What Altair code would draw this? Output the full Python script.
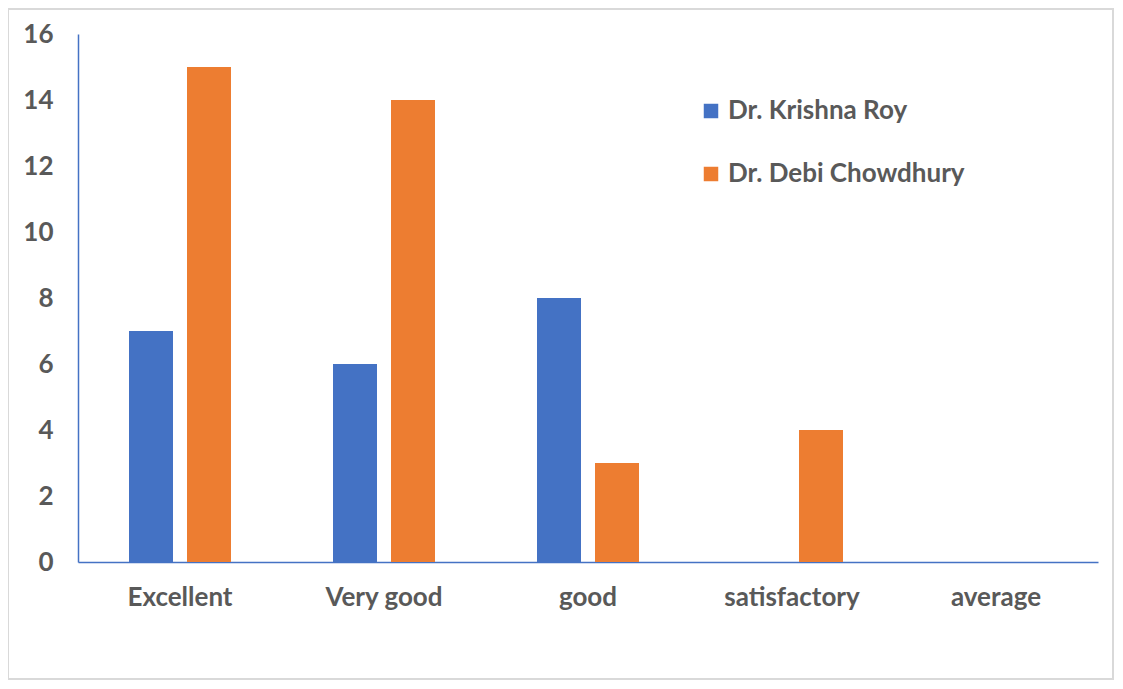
import altair as alt
import pandas as pd

categories = ["Excellent", "Very good", "good", "satisfactory", "average"]
series_names = ["Dr. Krishna Roy", "Dr. Debi Chowdhury"]
krishna = [7, 6, 8, 0, 0]
debi = [15, 14, 3, 4, 0]
colors = ["#4472C4", "#ED7D31"]

rows = []
for c, k, d in zip(categories, krishna, debi):
    rows.append({"cat": c, "series": series_names[0], "value": k})
    rows.append({"cat": c, "series": series_names[1], "value": d})
df = pd.DataFrame(rows)

FONT = "Lato"
GRAY = "#595959"
FS = 26

bars = alt.Chart(df).mark_bar().encode(
    x=alt.X("cat:N", sort=categories,
            scale=alt.Scale(paddingInner=0.5, paddingOuter=0.25),
            axis=alt.Axis(title=None, labelAngle=0, ticks=False, labelPadding=22,
                          domainColor="#4472C4", domainWidth=1.5,
                          labelFontSize=FS, labelFont=FONT, labelFontWeight="bold",
                          labelColor=GRAY)),
    xOffset=alt.XOffset("series:N", sort=series_names,
                        scale=alt.Scale(paddingInner=0.2414, paddingOuter=0)),
    y=alt.Y("value:Q", scale=alt.Scale(domain=[0, 16], nice=False),
            axis=alt.Axis(title=None, values=list(range(0, 17, 2)), ticks=False,
                          grid=False, labelPadding=25, domainColor="#4472C4",
                          domainWidth=1.5, labelFontSize=FS, labelFont=FONT,
                          labelFontWeight="bold", labelColor=GRAY)),
    color=alt.Color("series:N", sort=series_names,
                    scale=alt.Scale(domain=series_names, range=colors),
                    legend=alt.Legend(title=None, orient="none", legendX=620, legendY=64,
                                      symbolType="square", symbolSize=210,
                                      symbolStrokeWidth=0, labelFontSize=FS,
                                      labelFont=FONT, labelFontWeight="bold",
                                      labelColor=GRAY, rowPadding=37, labelOffset=4,
                                      labelLimit=400)),
)

border = alt.Chart(pd.DataFrame({"a": [0]})).mark_rect(
    fill=None, stroke="#D9D9D9", strokeWidth=2
).encode(
    x=alt.value(-70), x2=alt.value(1035), y=alt.value(-25), y2=alt.value(645)
)

chart = alt.layer(border, bars).properties(
    width=1020, height=528,
    autosize=alt.AutoSizeParams(type="none"),
    padding={"left": 70, "top": 26, "right": 17, "bottom": 118},
).configure_view(stroke=None)

chart.save("out.html", embed_options={"renderer": "svg", "actions": False})
